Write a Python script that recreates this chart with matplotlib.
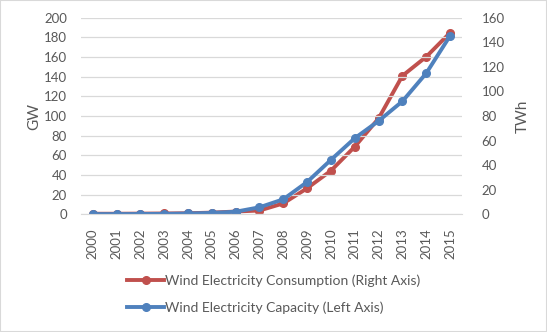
import numpy as np
import matplotlib.pyplot as plt
from matplotlib.patches import Rectangle

years = [str(y) for y in range(2000, 2016)]
capacity_gw = [0.4, 0.4, 0.5, 0.6, 1.0, 1.6, 2.8, 7.3, 15.4, 33.0, 55.5, 77.5, 95.0, 115.0, 143.5, 181.5]
consumption_twh = [0.6, 0.6, 0.7, 0.8, 1.0, 1.5, 2.4, 3.2, 9.0, 21.3, 35.6, 55.1, 78.1, 112.7, 128.2, 147.7]

red = '#C0504D'
blue = '#4F81BD'
grey_txt = '#595959'
grid_c = '#D9D9D9'

plt.rcParams['font.family'] = ['Lato', 'DejaVu Sans']

fig = plt.figure(figsize=(5.47, 3.32), dpi=100)
ax = fig.add_axes([0.1477, 0.354, 0.6969, 0.593])
ax2 = ax.twinx()

x = np.arange(len(years))

# consumption on right axis, capacity on left axis (drawn on top)
line1, = ax2.plot(x, consumption_twh, color=red, lw=2.8, marker='o', ms=5.5,
                  label='Wind Electricity Consumption (Right Axis)')
line2, = ax.plot(x, capacity_gw, color=blue, lw=2.8, marker='o', ms=5.5,
                 label='Wind Electricity Capacity (Left Axis)')
ax.set_zorder(ax2.get_zorder() + 1)
ax.patch.set_visible(False)

ax.set_xlim(-0.5, len(years) - 0.5)
ax.set_ylim(0, 200)
ax2.set_ylim(0, 160)
ax.set_yticks(np.arange(0, 201, 20))
ax2.set_yticks(np.arange(0, 161, 20))
ax.set_xticks(x)
ax.set_xticklabels(years, rotation=90)

ax.grid(axis='y', color=grid_c, lw=0.9)
ax.set_axisbelow(True)
for a in (ax, ax2):
    for s in a.spines.values():
        s.set_visible(False)
    a.tick_params(length=0, colors=grey_txt, labelsize=9.5)
ax.spines['bottom'].set_visible(True)
ax.spines['bottom'].set_color(grid_c)
ax.tick_params(axis='y', pad=10)
ax2.tick_params(axis='y', pad=14)
ax.tick_params(axis='x', pad=10)

ax.set_ylabel('GW', color=grey_txt, fontsize=11, labelpad=2)
ax2.set_ylabel('TWh', color=grey_txt, fontsize=11, labelpad=8)

fig.legend(handles=[line1, line2], loc='center', bbox_to_anchor=(0.5, 0.114),
           frameon=False, fontsize=10, labelcolor=grey_txt, handlelength=2.7,
           handletextpad=0.05, labelspacing=1.05)

fig.patches.append(Rectangle((0, 0), 1, 1, transform=fig.transFigure, fill=False,
                             edgecolor=grid_c, lw=1.5))

plt.savefig('out.png', dpi=100)
